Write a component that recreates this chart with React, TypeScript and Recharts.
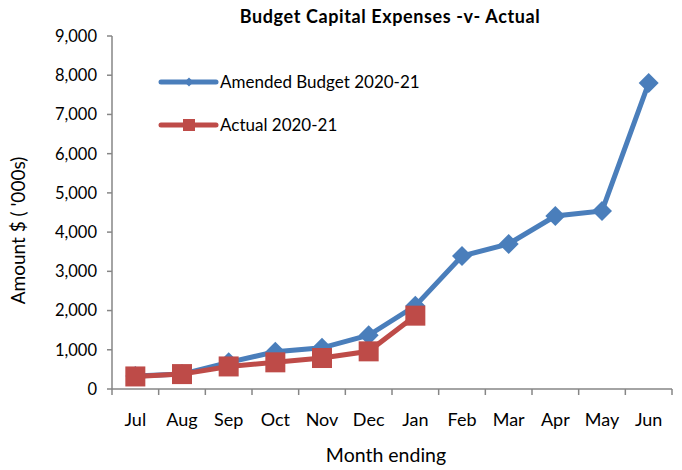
import React from 'react';
import { LineChart, Line, XAxis, YAxis, Legend, Label, Customized } from 'recharts';

const months = ['Jul', 'Aug', 'Sep', 'Oct', 'Nov', 'Dec', 'Jan', 'Feb', 'Mar', 'Apr', 'May', 'Jun'];
const budget = [330, 380, 680, 950, 1050, 1370, 2120, 3390, 3700, 4410, 4540, 7800];
const actual: (number | null)[] = [320, 380, 575, 680, 790, 960, 1870, null, null, null, null, null];
const yTicks = [0, 1000, 2000, 3000, 4000, 5000, 6000, 7000, 8000, 9000];

const seriesNames = { budget: 'Amended Budget 2020-21', actual: 'Actual 2020-21' };
const title = 'Budget Capital Expenses -v- Actual';
const xTitle = 'Month ending';
const yTitle = "Amount $ ( '000s)";

const data = months.map((m, i) => ({ month: m, budget: budget[i], actual: actual[i] }));

const BLUE = '#4a7ebb';
const RED = '#be4b48';
const AXIS = '#868686';
const FONT = 'Lato, "Open Sans", sans-serif';
const W = 682;
const H = 470;
const MARGIN = { top: 36, right: 10, left: 0, bottom: 0 };
const YAXIS_W = 112;
const XAXIS_H = 81;
const TICK_GAP = 31;

const Diamond = (props: any) => {
  const { cx, cy } = props;
  if (cx == null || cy == null) return null;
  const r = 10;
  return <polygon points={`${cx},${cy - r} ${cx + r},${cy} ${cx},${cy + r} ${cx - r},${cy}`} fill={BLUE} />;
};

const Square = (props: any) => {
  const { cx, cy } = props;
  if (cx == null || cy == null) return null;
  const s = 10;
  return <rect x={cx - s} y={cy - s} width={2 * s} height={2 * s} fill={RED} />;
};

const XTick = (props: any) => {
  const { x, y, payload, index } = props;
  const plotW = W - MARGIN.right - YAXIS_W - MARGIN.left;
  const half = plotW / months.length / 2;
  const ay = y - TICK_GAP;
  return (
    <g>
      <line x1={x - half} x2={x - half} y1={ay} y2={ay + 6} stroke={AXIS} strokeWidth={1.5} />
      {index === months.length - 1 && (
        <line x1={x + half} x2={x + half} y1={ay} y2={ay + 6} stroke={AXIS} strokeWidth={1.5} />
      )}
      <text x={x} y={y} dy="0.35em" textAnchor="middle" fill="#000" fontSize={18} fontFamily={FONT}>
        {payload.value}
      </text>
    </g>
  );
};

const LegendContent = () => (
  <svg width={320} height={80} style={{ overflow: 'visible', display: 'block' }}>
    <line x1={3} x2={58} y1={14} y2={14} stroke={BLUE} strokeWidth={5} strokeLinecap="round" />
    <polygon points="31,9.5 35.5,14 31,18.5 26.5,14" fill={BLUE} />
    <text x={62} y={14} dy="0.35em" fontSize={17} fontFamily={FONT} fill="#000">{seriesNames.budget}</text>
    <line x1={3} x2={58} y1={57} y2={57} stroke={RED} strokeWidth={5} strokeLinecap="round" />
    <rect x={25} y={51} width={12} height={12} fill={RED} />
    <text x={62} y={57} dy="0.35em" fontSize={17} fontFamily={FONT} fill="#000">{seriesNames.actual}</text>
  </svg>
);

const Title = () => (
  <text x={390} y={17} dy="0.35em" textAnchor="middle" fontSize={18} letterSpacing={0.6} fontWeight="bold" fontFamily={FONT} fill="#000">
    {title}
  </text>
);

export default function App() {
  return (
    <div style={{ position: 'absolute', left: 0, top: 0, width: W, height: H }}>
      <LineChart width={W} height={H} data={data} margin={MARGIN}>
        <XAxis
          dataKey="month"
          scale="band"
          height={XAXIS_H}
          stroke={AXIS}
          strokeWidth={1.5}
          tickLine={false}
          tickSize={0}
          tickMargin={TICK_GAP}
          interval={0}
          tick={<XTick />}
        >
          <Label
            content={({ viewBox }: any) => (
              <text x={viewBox.x + viewBox.width / 2 - 6} y={viewBox.y + 66} textAnchor="middle" dy="0.35em" fontSize={19.5} fontFamily={FONT} fill="#000">
                {xTitle}
              </text>
            )}
          />
        </XAxis>
        <YAxis
          width={YAXIS_W}
          domain={[0, 9000]}
          ticks={yTicks}
          interval={0}
          stroke={AXIS}
          strokeWidth={1.5}
          tickSize={5}
          tickMargin={10}
          tick={{ fill: '#000', fontSize: 16.5, fontFamily: FONT }}
          tickFormatter={(v: number) => v.toLocaleString('en-US')}
        >
          <Label
            content={({ viewBox }: any) => {
              const cx = viewBox.x + 18;
              const cy = viewBox.y + viewBox.height / 2 + 18;
              return (
                <text x={cx} y={cy} transform={`rotate(-90 ${cx} ${cy})`} textAnchor="middle" dy="0.35em" fontSize={19} fontFamily={FONT} fill="#000">
                  {yTitle}
                </text>
              );
            }}
          />
        </YAxis>
        <Legend
          layout="horizontal"
          verticalAlign="middle"
          align="center"
          content={<LegendContent />}
          wrapperStyle={{ position: 'absolute', left: 158, top: 68, width: 320, height: 80 }}
        />
        <Line type="linear" dataKey="budget" name={seriesNames.budget} stroke={BLUE} strokeWidth={5} dot={<Diamond />} isAnimationActive={false} />
        <Line type="linear" dataKey="actual" name={seriesNames.actual} stroke={RED} strokeWidth={5} dot={<Square />} isAnimationActive={false} />
        <Customized component={Title} />
      </LineChart>
    </div>
  );
}
